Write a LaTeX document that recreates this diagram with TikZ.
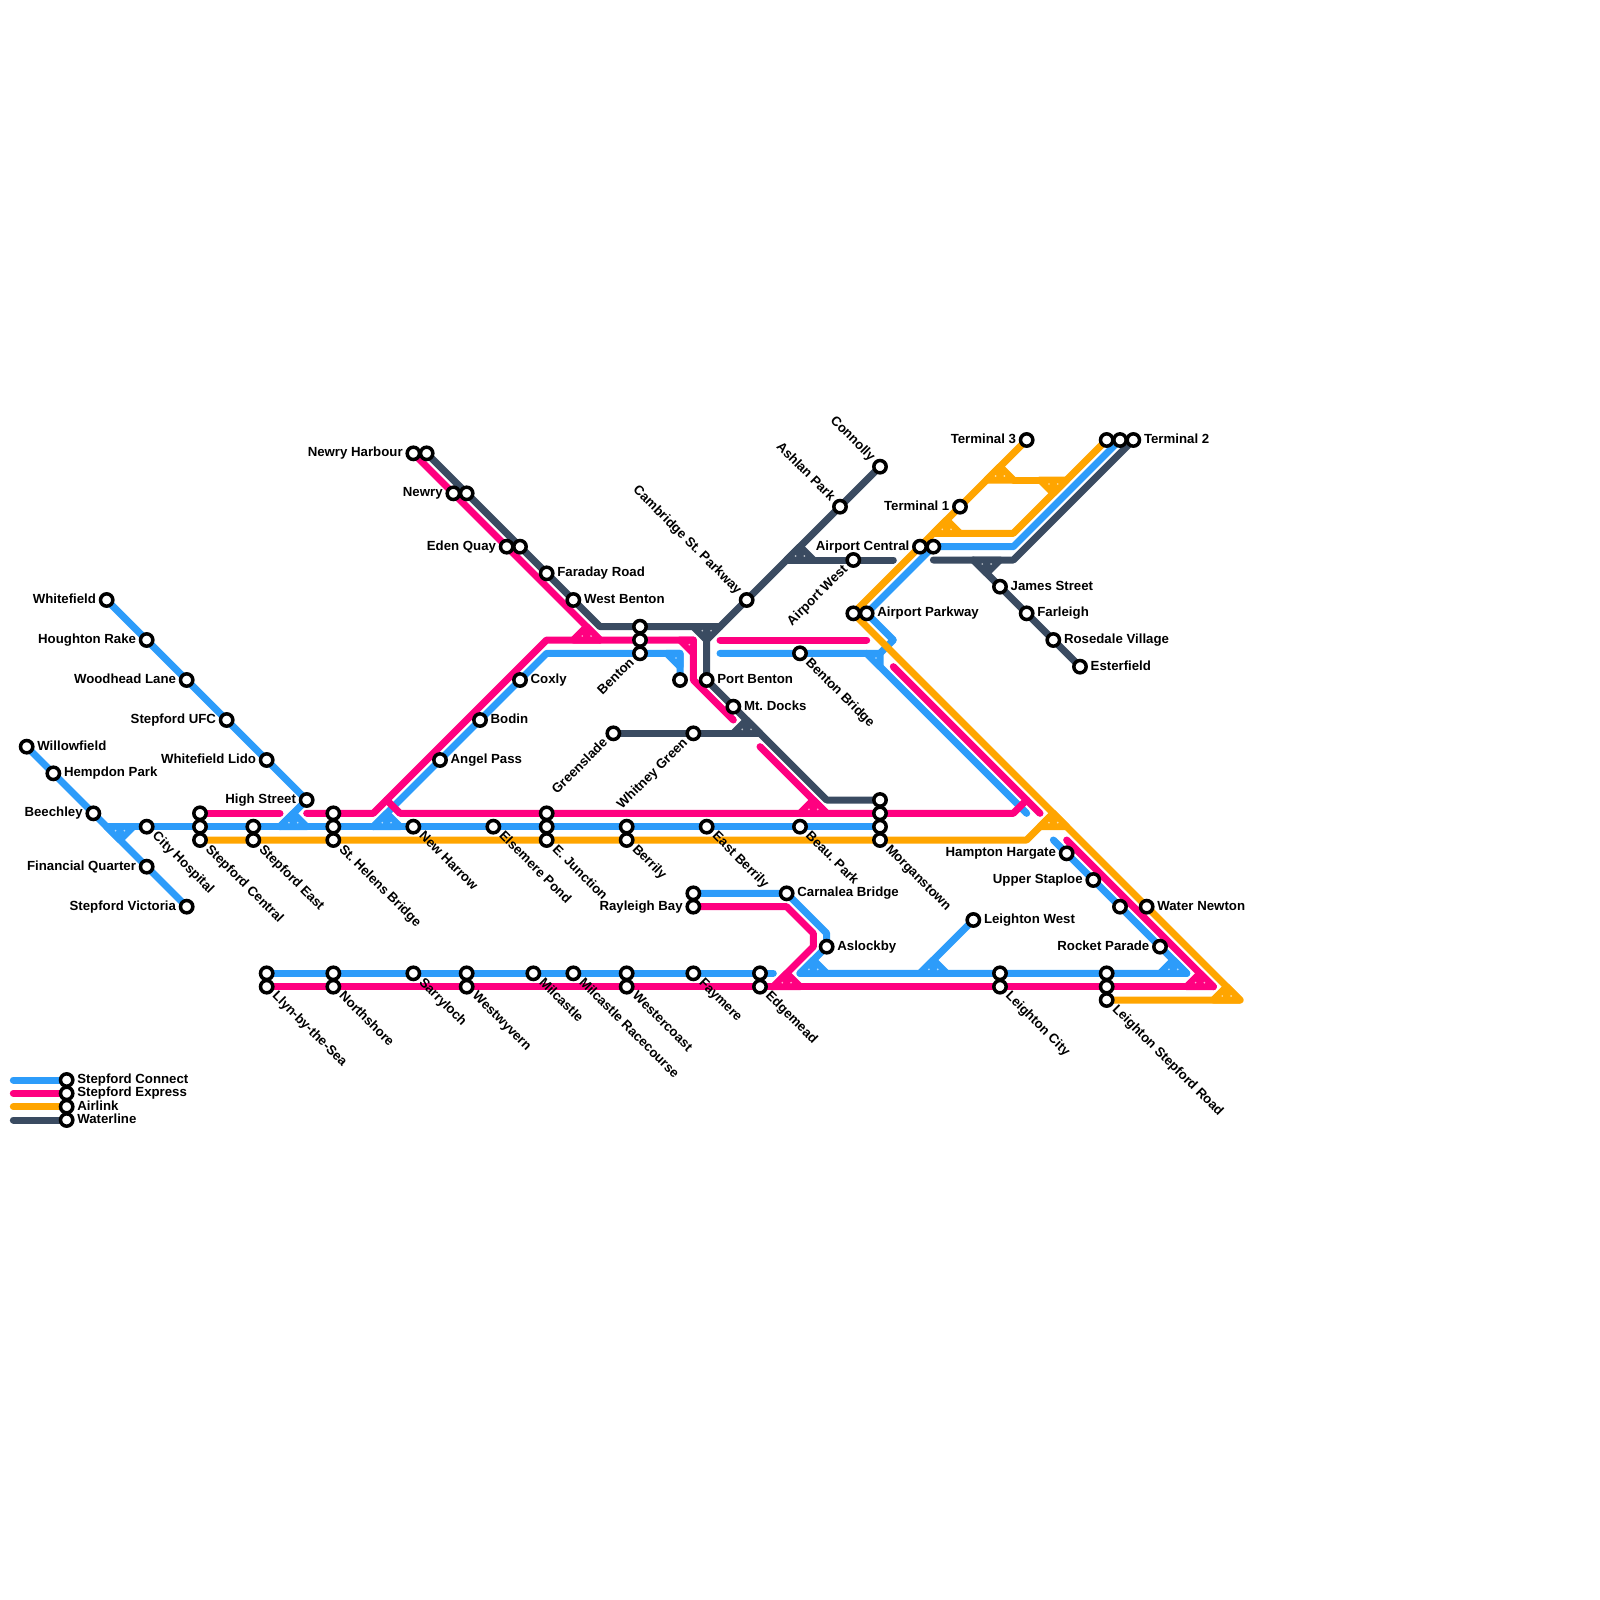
\documentclass[tikz,border=0pt]{standalone}
\usepackage{fontspec}
\setmainfont{Liberation Sans}[BoldFont={Liberation Sans Bold}]
\usetikzlibrary{backgrounds}
\definecolor{cblue}{HTML}{2D9CFA}
\definecolor{cpink}{HTML}{FF0080}
\definecolor{corange}{HTML}{FFA500}
\definecolor{cdark}{HTML}{3A4B61}
\frenchspacing
\tikzset{
  stn/.style={circle,draw=black,fill=white,line width=.105cm,minimum size=.37cm,inner sep=0pt},
  lbl/.style={font=\bfseries\fontsize{11.3}{13}\selectfont,text=black,inner sep=0pt,outer sep=0pt},
  route/.style={line width=.21cm,line cap=round,line join=round},
  rblue/.style={route,draw=cblue},
  rpink/.style={route,draw=cpink},
  rorange/.style={route,draw=corange},
  rdark/.style={route,draw=cdark},
  seam/.style={fill=white,opacity=.65},
}
% station: id, x, y
\newcommand{\stn}[3]{\node[stn] (#1) at (#2,#3) {};}
% labels at a station
\newcommand{\labR}[2]{\node[lbl,anchor=base west] (#1-t) at ([xshift=.32cm,yshift=-.1cm]#1.center) {#2};}
\newcommand{\labL}[2]{\node[lbl,anchor=base east] (#1-t) at ([xshift=-.32cm,yshift=-.1cm]#1.center) {#2};}
\newcommand{\labDR}[2]{\node[lbl,anchor=base west,rotate=-45] (#1-t) at ([xshift=.155cm,yshift=-.3cm]#1.center) {#2};}
\newcommand{\labUL}[2]{\node[lbl,anchor=base east,rotate=-45] (#1-t) at ([xshift=-.3cm,yshift=.155cm]#1.center) {#2};}
\newcommand{\labDL}[2]{\node[lbl,anchor=base east,rotate=45] (#1-t) at ([xshift=-.155cm,yshift=-.3cm]#1.center) {#2};}
% junction triangle: colour, apex x, apex y, +1 (base below apex) or -1 (base above apex)
\newcommand{\junc}[4]{%
  \filldraw[route,draw=#1,fill=#1] (#2,#3) -- ++(-1,#4) -- ++(2,0) -- cycle;
  \fill[seam] ({#2-.33},{#3+#4-.3*#4}) circle (.07);
  \fill[seam] ({#2+.33},{#3+#4-.3*#4}) circle (.07);
}
% corner tile: colour, three corners, seam x y
\newcommand{\ctile}[6]{%
  \filldraw[route,draw=#1,fill=#1] (#2) -- (#3) -- (#4) -- cycle;
  \fill[seam] (#5,#6) circle (.07);
}
\begin{document}
\begin{tikzpicture}[x=.4cm,y=-.4cm]
\useasboundingbox (0,0) rectangle (120,120);

% --- stations ---
\stn{whitefield}{8}{45}\labL{whitefield}{Whitefield}
\stn{houghton}{11}{48}\labL{houghton}{Houghton Rake}
\stn{woodhead}{14}{51}\labL{woodhead}{Woodhead Lane}
\stn{ufc}{17}{54}\labL{ufc}{Stepford UFC}
\stn{lido}{20}{57}\labL{lido}{Whitefield Lido}
\stn{high}{23}{60}\labL{high}{High Street}
\stn{willow}{2}{56}\labR{willow}{Willowfield}
\stn{hempdon}{4}{58}\labR{hempdon}{Hempdon Park}
\stn{beechley}{7}{61}\labL{beechley}{Beechley}
\stn{financial}{11}{65}\labL{financial}{Financial Quarter}
\stn{victoria}{14}{68}\labL{victoria}{Stepford Victoria}
\stn{cityh}{11}{62}\labDR{cityh}{City Hospital}
\stn{scA}{15}{61}\stn{scB}{15}{62}\stn{scC}{15}{63}\labDR{scC}{Stepford Central}
\stn{seA}{19}{62}\stn{seB}{19}{63}\labDR{seB}{Stepford East}
\stn{shA}{25}{61}\stn{shB}{25}{62}\stn{shC}{25}{63}\labDR{shC}{St. Helens Bridge}
\stn{harrow}{31}{62}\labDR{harrow}{New Harrow}
\stn{elsemere}{37}{62}\labDR{elsemere}{Elsemere Pond}
\stn{ejA}{41}{61}\stn{ejB}{41}{62}\stn{ejC}{41}{63}\labDR{ejC}{E. Junction}
\stn{berA}{47}{62}\stn{berB}{47}{63}\labDR{berB}{Berrily}
\stn{eberrily}{53}{62}\labDR{eberrily}{East Berrily}
\stn{beau}{60}{62}\labDR{beau}{Beau. Park}
\stn{morD}{66}{60}\stn{morP}{66}{61}\stn{morB}{66}{62}\stn{morO}{66}{63}\labDR{morO}{Morganstown}
\stn{angel}{33}{57}\labR{angel}{Angel Pass}
\stn{bodin}{36}{54}\labR{bodin}{Bodin}
\stn{coxly}{39}{51}\labR{coxly}{Coxly}
\stn{newryhP}{31}{34}\stn{newryhD}{32}{34}\labL{newryhP}{Newry Harbour}
\stn{newryP}{34}{37}\stn{newryD}{35}{37}\labL{newryP}{Newry}
\stn{edenP}{38}{41}\stn{edenD}{39}{41}\labL{edenP}{Eden Quay}
\stn{faraday}{41}{43}\labR{faraday}{Faraday Road}
\stn{wbenton}{43}{45}\labR{wbenton}{West Benton}
\stn{bentD}{48}{47}\stn{bentP}{48}{48}\stn{bentB}{48}{49}\labDL{bentB}{Benton}
\stn{unnA}{51}{51}
\stn{pbenton}{53}{51}\labR{pbenton}{Port Benton}
\stn{docks}{55}{53}\labR{docks}{Mt. Docks}
\stn{green}{46}{55}\labDL{green}{Greenslade}
\stn{whitney}{52}{55}\labDL{whitney}{Whitney Green}
\stn{cambridge}{56}{45}\labUL{cambridge}{Cambridge St. Parkway}
\stn{ashlan}{63}{38}\labUL{ashlan}{Ashlan Park}
\stn{connolly}{66}{35}\labUL{connolly}{Connolly}
\stn{awest}{64}{42}\labDL{awest}{Airport West}
\stn{bbridge}{60}{49}\labDR{bbridge}{Benton Bridge}
\stn{parkO}{64}{46}\stn{parkB}{65}{46}\labR{parkB}{Airport Parkway}
\stn{centO}{69}{41}\stn{centB}{70}{41}\labL{centO}{Airport Central}
\stn{term1}{72}{38}\labL{term1}{Terminal 1}
\stn{term3}{77}{33}\labL{term3}{Terminal 3}
\stn{term2O}{83}{33}\stn{term2B}{84}{33}\stn{term2D}{85}{33}\labR{term2D}{Terminal 2}
\stn{james}{75}{44}\labR{james}{James Street}
\stn{farleigh}{77}{46}\labR{farleigh}{Farleigh}
\stn{rosedale}{79}{48}\labR{rosedale}{Rosedale Village}
\stn{esterfield}{81}{50}\labR{esterfield}{Esterfield}
\stn{hampton}{80}{64}\labL{hampton}{Hampton Hargate}
\stn{staploe}{82}{66}\labL{staploe}{Upper Staploe}
\stn{unnB}{84}{68}
\stn{newton}{86}{68}\labR{newton}{Water Newton}
\stn{rocket}{87}{71}\labL{rocket}{Rocket Parade}
\stn{rayB}{52}{67}\stn{rayP}{52}{68}\labL{rayP}{Rayleigh Bay}
\stn{carnalea}{59}{67}\labR{carnalea}{Carnalea Bridge}
\stn{aslockby}{62}{71}\labR{aslockby}{Aslockby}
\stn{lwest}{73}{69}\labR{lwest}{Leighton West}
\stn{llynB}{20}{73}\stn{llynP}{20}{74}\labDR{llynP}{Llyn-by-the-Sea}
\stn{northB}{25}{73}\stn{northP}{25}{74}\labDR{northP}{Northshore}
\stn{sarry}{31}{73}\labDR{sarry}{Sarryloch}
\stn{wwB}{35}{73}\stn{wwP}{35}{74}\labDR{wwP}{Westwyvern}
\stn{milc}{40}{73}\labDR{milc}{Milcastle}
\stn{milcr}{43}{73}\labDR{milcr}{Milcastle Racecourse}
\stn{wcB}{47}{73}\stn{wcP}{47}{74}\labDR{wcP}{Westercoast}
\stn{faymere}{52}{73}\labDR{faymere}{Faymere}
\stn{edgeB}{57}{73}\stn{edgeP}{57}{74}\labDR{edgeP}{Edgemead}
\stn{lcB}{75}{73}\stn{lcP}{75}{74}\labDR{lcP}{Leighton City}
\stn{lsB}{83}{73}\stn{lsP}{83}{74}\stn{lsO}{83}{75}\labDR{lsO}{Leighton Stepford Road}
% legend
\stn{legB}{5}{81}\labR{legB}{Stepford Connect}
\stn{legP}{5}{82}\labR{legP}{Stepford Express}
\stn{legO}{5}{83}\labR{legO}{Airlink}
\stn{legD}{5}{84}\labR{legD}{Waterline}

% --- bends and free ends ---
\coordinate (b1) at (21,62);   \coordinate (b2) at (8,62);
\coordinate (b3) at (28,62);   \coordinate (b4) at (41,49);
\coordinate (b5) at (51,49);   \coordinate (b6) at (54,49);
\coordinate (b7) at (65,49);   \coordinate (b8) at (77,61);
\coordinate (b9) at (67,48);   \coordinate (b10) at (66,49);
\coordinate (b11) at (76,41);  \coordinate (b12) at (79,63);
\coordinate (b13) at (89,73);  \coordinate (b14) at (62,70);
\coordinate (b15) at (60,73);  \coordinate (b16) at (58,73);
\coordinate (b17) at (69,73);
\coordinate (p1) at (21,61);   \coordinate (p2) at (23,61);
\coordinate (p3) at (28,61);   \coordinate (p4) at (41,48);
\coordinate (p5) at (52,48);   \coordinate (p6) at (52,51);
\coordinate (p7) at (55,54);   \coordinate (p8) at (45,48);
\coordinate (p9) at (54,48);   \coordinate (p10) at (65,48);
\coordinate (p11) at (57,56);  \coordinate (p12) at (62,61);
\coordinate (p13) at (29,60);  \coordinate (p14) at (30,61);
\coordinate (p15) at (76,61);  \coordinate (p16) at (77,60);
\coordinate (p17) at (67,50);  \coordinate (p18) at (78,61);
\coordinate (p19) at (80,63);  \coordinate (p20) at (91,74);
\coordinate (p21) at (59,68);  \coordinate (p22) at (61,70);
\coordinate (p23) at (61,71);  \coordinate (p24) at (58,74);
\coordinate (d1) at (45,47);   \coordinate (d2) at (54,47);
\coordinate (d3) at (53,48);   \coordinate (d4) at (62,60);
\coordinate (d5) at (56,55);   \coordinate (d6) at (59,42);
\coordinate (d7) at (67,42);   \coordinate (d8) at (70,42);
\coordinate (d9) at (76,42);   \coordinate (d10) at (73,42);
\coordinate (o1) at (93,75);   \coordinate (o2) at (77,63);
\coordinate (o3) at (79,61);   \coordinate (o4) at (72,40);
\coordinate (o5) at (76,40);   \coordinate (o6) at (76,36);
\coordinate (o7) at (78,36);
\coordinate (l1) at (1,81);    \coordinate (l2) at (1,82);
\coordinate (l3) at (1,83);    \coordinate (l4) at (1,84);

\begin{pgfonlayer}{background}
% --- dark ---
\draw[rdark] (newryhD.center) -- (d1) -- (d2) -- (connolly.center);
\draw[rdark] (d3) -- (pbenton.center) -- (d4) -- (morD.center);
\draw[rdark] (green.center) -- (d5);
\draw[rdark] (d6) -- (d7);
\draw[rdark] (d8) -- (d9) -- (term2D.center);
\draw[rdark] (d10) -- (esterfield.center);
\junc{cdark}{53}{48}{-1}
\junc{cdark}{74}{43}{-1}
\junc{cdark}{56}{54}{1}
\junc{cdark}{60}{41}{1}
\draw[rdark] (l4) -- (legD.center);
% --- blue ---
\draw[rblue] (willow.center) -- (victoria.center);
\draw[rblue] (whitefield.center) -- (high.center) -- (b1);
\draw[rblue] (b2) -- (morB.center);
\draw[rblue] (b3) -- (b4) -- (b5) -- (unnA.center);
\draw[rblue] (b6) -- (b7) -- (b8);
\draw[rblue] (parkB.center) -- (b9) -- (b10);
\draw[rblue] (parkB.center) -- (centB.center) -- (b11) -- (term2B.center);
\draw[rblue] (b12) -- (b13);
\draw[rblue] (rayB.center) -- (carnalea.center) -- (b14) -- (aslockby.center) -- (b15) -- (b13);
\draw[rblue] (llynB.center) -- (b16);
\draw[rblue] (lwest.center) -- (b17);
\junc{cblue}{9}{63}{-1}
\junc{cblue}{22}{61}{1}
\junc{cblue}{29}{61}{1}
\junc{cblue}{61}{72}{1}
\junc{cblue}{70}{72}{1}
\junc{cblue}{88}{72}{1}
\ctile{cblue}{50,49}{51,49}{51,50}{50.7}{49.35}
\ctile{cblue}{65,49}{66,49}{66,50}{65.7}{49.35}
\draw[rblue] (l1) -- (legB.center);
% --- pink ---
\draw[rpink] (scA.center) -- (p1);
\draw[rpink] (p2) -- (p3) -- (p4) -- (p5) -- (p6) -- (p7);
\draw[rpink] (newryhP.center) -- (p8);
\draw[rpink] (p9) -- (p10);
\draw[rpink] (p11) -- (p12);
\draw[rpink] (p13) -- (p14) -- (p15) -- (p16);
\draw[rpink] (p17) -- (p18);
\draw[rpink] (p19) -- (p20);
\draw[rpink] (llynP.center) -- (p20);
\draw[rpink] (rayP.center) -- (p21) -- (p22) -- (p23) -- (p24);
\junc{cpink}{44}{47}{1}
\junc{cpink}{61}{60}{1}
\junc{cpink}{59}{73}{1}
\junc{cpink}{90}{73}{1}
\ctile{cpink}{51,48}{52,48}{52,49}{51.7}{48.35}
\draw[rpink] (l2) -- (legP.center);
% --- orange ---
\draw[rorange] (parkO.center) -- (term3.center);
\draw[rorange] (parkO.center) -- (o1) -- (lsO.center);
\draw[rorange] (scC.center) -- (o2) -- (o3);
\draw[rorange] (o4) -- (o5) -- (term2O.center);
\draw[rorange] (o6) -- (o7);
\junc{corange}{75}{35}{1}
\junc{corange}{71}{39}{1}
\junc{corange}{79}{61}{1}
\junc{corange}{92}{74}{1}
\junc{corange}{79}{37}{-1}
\draw[rorange] (l3) -- (legO.center);
\end{pgfonlayer}
\end{tikzpicture}
\end{document}
